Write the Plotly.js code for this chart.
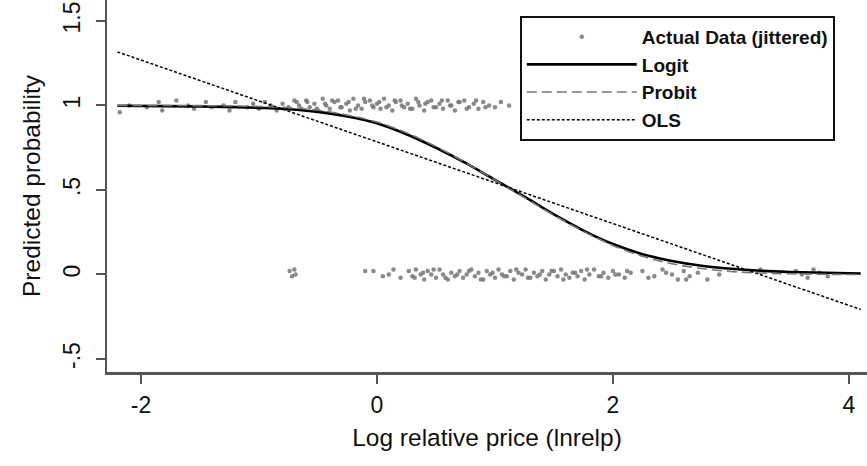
<!DOCTYPE html>
<html>
<head>
<meta charset="utf-8">
<script src="https://cdn.plot.ly/plotly-3.0.1.min.js"></script>
<style>html,body{margin:0;padding:0;background:#fff;}#chart{width:867px;height:466px;}</style>
</head>
<body>
<div id="chart"></div>
<script>
// Fitted curves
const curveX = [-2.2, -1.8, -1.5, -1.2, -1.0, -0.75, -0.5, -0.25, 0.0, 0.25, 0.5, 0.75, 1.0, 1.25, 1.5, 1.75, 2.0, 2.25, 2.5, 2.75, 3.0, 3.25, 3.5, 3.8, 4.1];
const logitY = [0.998, 0.996, 0.994, 0.990, 0.986, 0.978, 0.962, 0.935, 0.895, 0.83, 0.75, 0.66, 0.56, 0.46, 0.355, 0.26, 0.18, 0.12, 0.08, 0.052, 0.034, 0.022, 0.015, 0.01, 0.006];
const probitY = [1.0, 1.0, 0.999, 0.997, 0.994, 0.987, 0.972, 0.943, 0.902, 0.838, 0.757, 0.662, 0.56, 0.455, 0.35, 0.255, 0.172, 0.108, 0.064, 0.035, 0.018, 0.009, 0.004, 0.001, 0.0];
const olsX = [-2.2, 4.1];
const olsY = [1.317, -0.207];

// Actual data (jittered), upper group (y = 1)
const upX = [-2.18,-2.1,-1.95,-1.85,-1.82,-1.7,-1.6,-1.55,-1.45,-1.4,-1.3,-1.25,-1.2,-1.1,-1.05,-1.0,-0.95,-0.9,-0.85,-0.8,-0.75,-0.7,
  -0.68,-0.64,-0.6,-0.57,-0.53,-0.5,-0.46,-0.43,-0.4,-0.36,-0.33,-0.3,-0.26,-0.23,-0.2,-0.16,-0.13,-0.1,-0.06,-0.03,0.0,0.03,0.06,0.1,0.13,0.16,0.2,0.23,0.26,0.3,0.33,0.36,0.4,0.43,0.46,0.5,0.53,0.56,0.6,0.63,0.66,0.7,0.74,0.78,0.82,0.86,0.9,0.95,1.0,1.05,1.12,
  -0.66,-0.59,-0.51,-0.44,-0.38,-0.31,-0.24,-0.18,-0.11,-0.04,0.02,0.08,0.15,0.21,0.28,0.35,0.41,0.48,0.55,0.62,0.69,0.76,0.84,0.92];
const upY = [0.96,1.0,0.99,1.02,0.97,1.03,1.0,0.98,1.02,0.99,1.0,0.97,1.02,0.99,1.01,0.98,1.02,1.0,0.97,1.01,0.99,1.03,
  1.02,0.98,1.03,0.99,1.01,0.97,1.04,1.0,0.98,1.02,1.03,0.99,1.01,0.97,1.04,1.0,0.98,1.02,1.03,0.99,1.01,0.98,1.04,1.0,0.97,1.02,1.03,0.99,1.01,0.98,1.04,1.0,0.97,1.02,1.03,0.99,1.01,0.98,1.03,1.0,0.97,1.02,1.03,0.99,1.01,0.98,1.02,1.0,0.99,1.02,1.0,
  1.0,1.02,0.98,1.01,1.03,0.99,1.02,0.98,1.04,1.0,1.02,0.99,1.03,1.0,0.98,1.02,1.01,0.99,1.03,1.0,1.02,0.98,1.03,0.99];

// Actual data (jittered), lower group (y = 0)
const loX = [-0.74,-0.72,-0.7,-0.69,-0.1,-0.03,0.05,0.1,0.14,0.2,0.27,0.3,0.33,0.37,0.4,0.43,0.46,0.5,0.53,0.56,0.6,0.63,0.66,0.7,0.73,0.76,0.8,0.83,0.86,0.9,0.93,0.96,1.0,1.03,1.06,1.1,1.13,1.16,1.2,1.23,1.26,1.3,1.33,1.36,1.4,1.43,1.46,1.5,1.53,1.56,1.6,1.63,1.66,1.7,1.73,1.76,1.8,1.84,1.88,1.92,1.96,2.0,2.05,2.1,2.15,2.25,2.35,2.42,2.5,2.55,2.6,2.65,2.72,2.8,2.9,3.25,3.55,3.6,3.65,3.7,3.75,3.82,
  0.32,0.39,0.48,0.58,0.68,0.78,0.88,0.98,1.08,1.18,1.28,1.38,1.48,1.58,1.68,1.78,1.9,2.02,2.12,2.3,2.45,2.62];
const loY = [0.02,-0.01,0.03,0.0,0.02,0.02,-0.01,0.0,0.03,-0.02,0.02,-0.01,0.03,0.0,-0.03,0.02,0.0,-0.02,0.03,0.0,-0.03,0.01,-0.01,0.02,-0.02,0.0,0.03,-0.01,0.01,-0.03,0.02,0.0,-0.02,0.03,0.0,-0.01,0.02,-0.03,0.01,0.0,0.03,-0.02,0.01,-0.01,0.02,-0.03,0.0,0.02,-0.01,0.03,0.0,-0.02,0.01,-0.01,0.02,-0.03,0.0,0.03,-0.01,0.01,-0.02,0.02,0.0,-0.02,0.01,0.02,-0.01,0.03,0.0,-0.03,0.02,-0.01,0.01,-0.03,0.0,0.03,0.02,0.0,-0.02,0.03,0.01,-0.01,
  -0.02,0.01,0.03,-0.02,0.0,0.02,-0.03,0.01,-0.01,0.03,-0.02,0.0,0.02,-0.03,0.01,0.03,-0.01,0.0,0.02,-0.02,0.01,-0.03];

const yTickVals = [-0.5, 0, 0.5, 1, 1.5];
const yTickText = ["-.5", "0", ".5", "1", "1.5"];
const xTickVals = [-2, 0, 2, 4];
const xTickText = ["-2", "0", "2", "4"];

const FONT = "Liberation Sans, Arial, sans-serif";
const traces = [
  {x: upX.concat(loX), y: upY.concat(loY), type: "scatter", mode: "markers", name: "Actual Data (jittered)",
   marker: {color: "#757575", size: 4.5, opacity: 0.85}},
  {x: curveX, y: logitY, type: "scatter", mode: "lines", name: "Logit", line: {color: "#000", width: 2.6, shape: "spline"}},
  {x: curveX, y: probitY, type: "scatter", mode: "lines", name: "Probit", line: {color: "#777", width: 1.6, dash: "10px,5px", shape: "spline"}},
  {x: olsX, y: olsY, type: "scatter", mode: "lines", name: "OLS", line: {color: "#000", width: 1.5, dash: "3px,2px"}}
];
const layout = {
  width: 867, height: 466,
  margin: {l: 107, r: 0, t: 0, b: 94},
  paper_bgcolor: "#fff", plot_bgcolor: "#fff",
  font: {family: FONT, color: "#111", size: 22},
  showlegend: true,
  legend: {x: 0.5434, y: 0.957, xanchor: "left", yanchor: "top", bordercolor: "#111", borderwidth: 1.8,
    bgcolor: "#fff", font: {family: FONT, size: 19, color: "#111", weight: "bold"}, itemwidth: 110},
  xaxis: {range: [-2.288, 4.153], tickvals: xTickVals, ticktext: xTickText, ticks: "outside", ticklen: 9, tickwidth: 2, tickcolor: "#555",
    showline: true, linecolor: "#555", linewidth: 2.5, showgrid: false, zeroline: false, ticklabelstandoff: 2,
    tickfont: {size: 23}, title: {text: "Log relative price (lnrelp)", font: {size: 24.5}, standoff: 12}},
  yaxis: {range: [-0.577, 1.624], tickvals: yTickVals, ticktext: yTickText, tickangle: -90, ticks: "outside", ticklen: 9, tickwidth: 2, tickcolor: "#555",
    showline: true, linecolor: "#555", linewidth: 2.5, showgrid: false, zeroline: false, ticklabelstandoff: 6,
    tickfont: {size: 23}, title: {text: "Predicted probability", font: {size: 24.5}, standoff: 12}}
};
Plotly.newPlot("chart", traces, layout, {displayModeBar: false, staticPlot: true});
</script>
</body>
</html>
